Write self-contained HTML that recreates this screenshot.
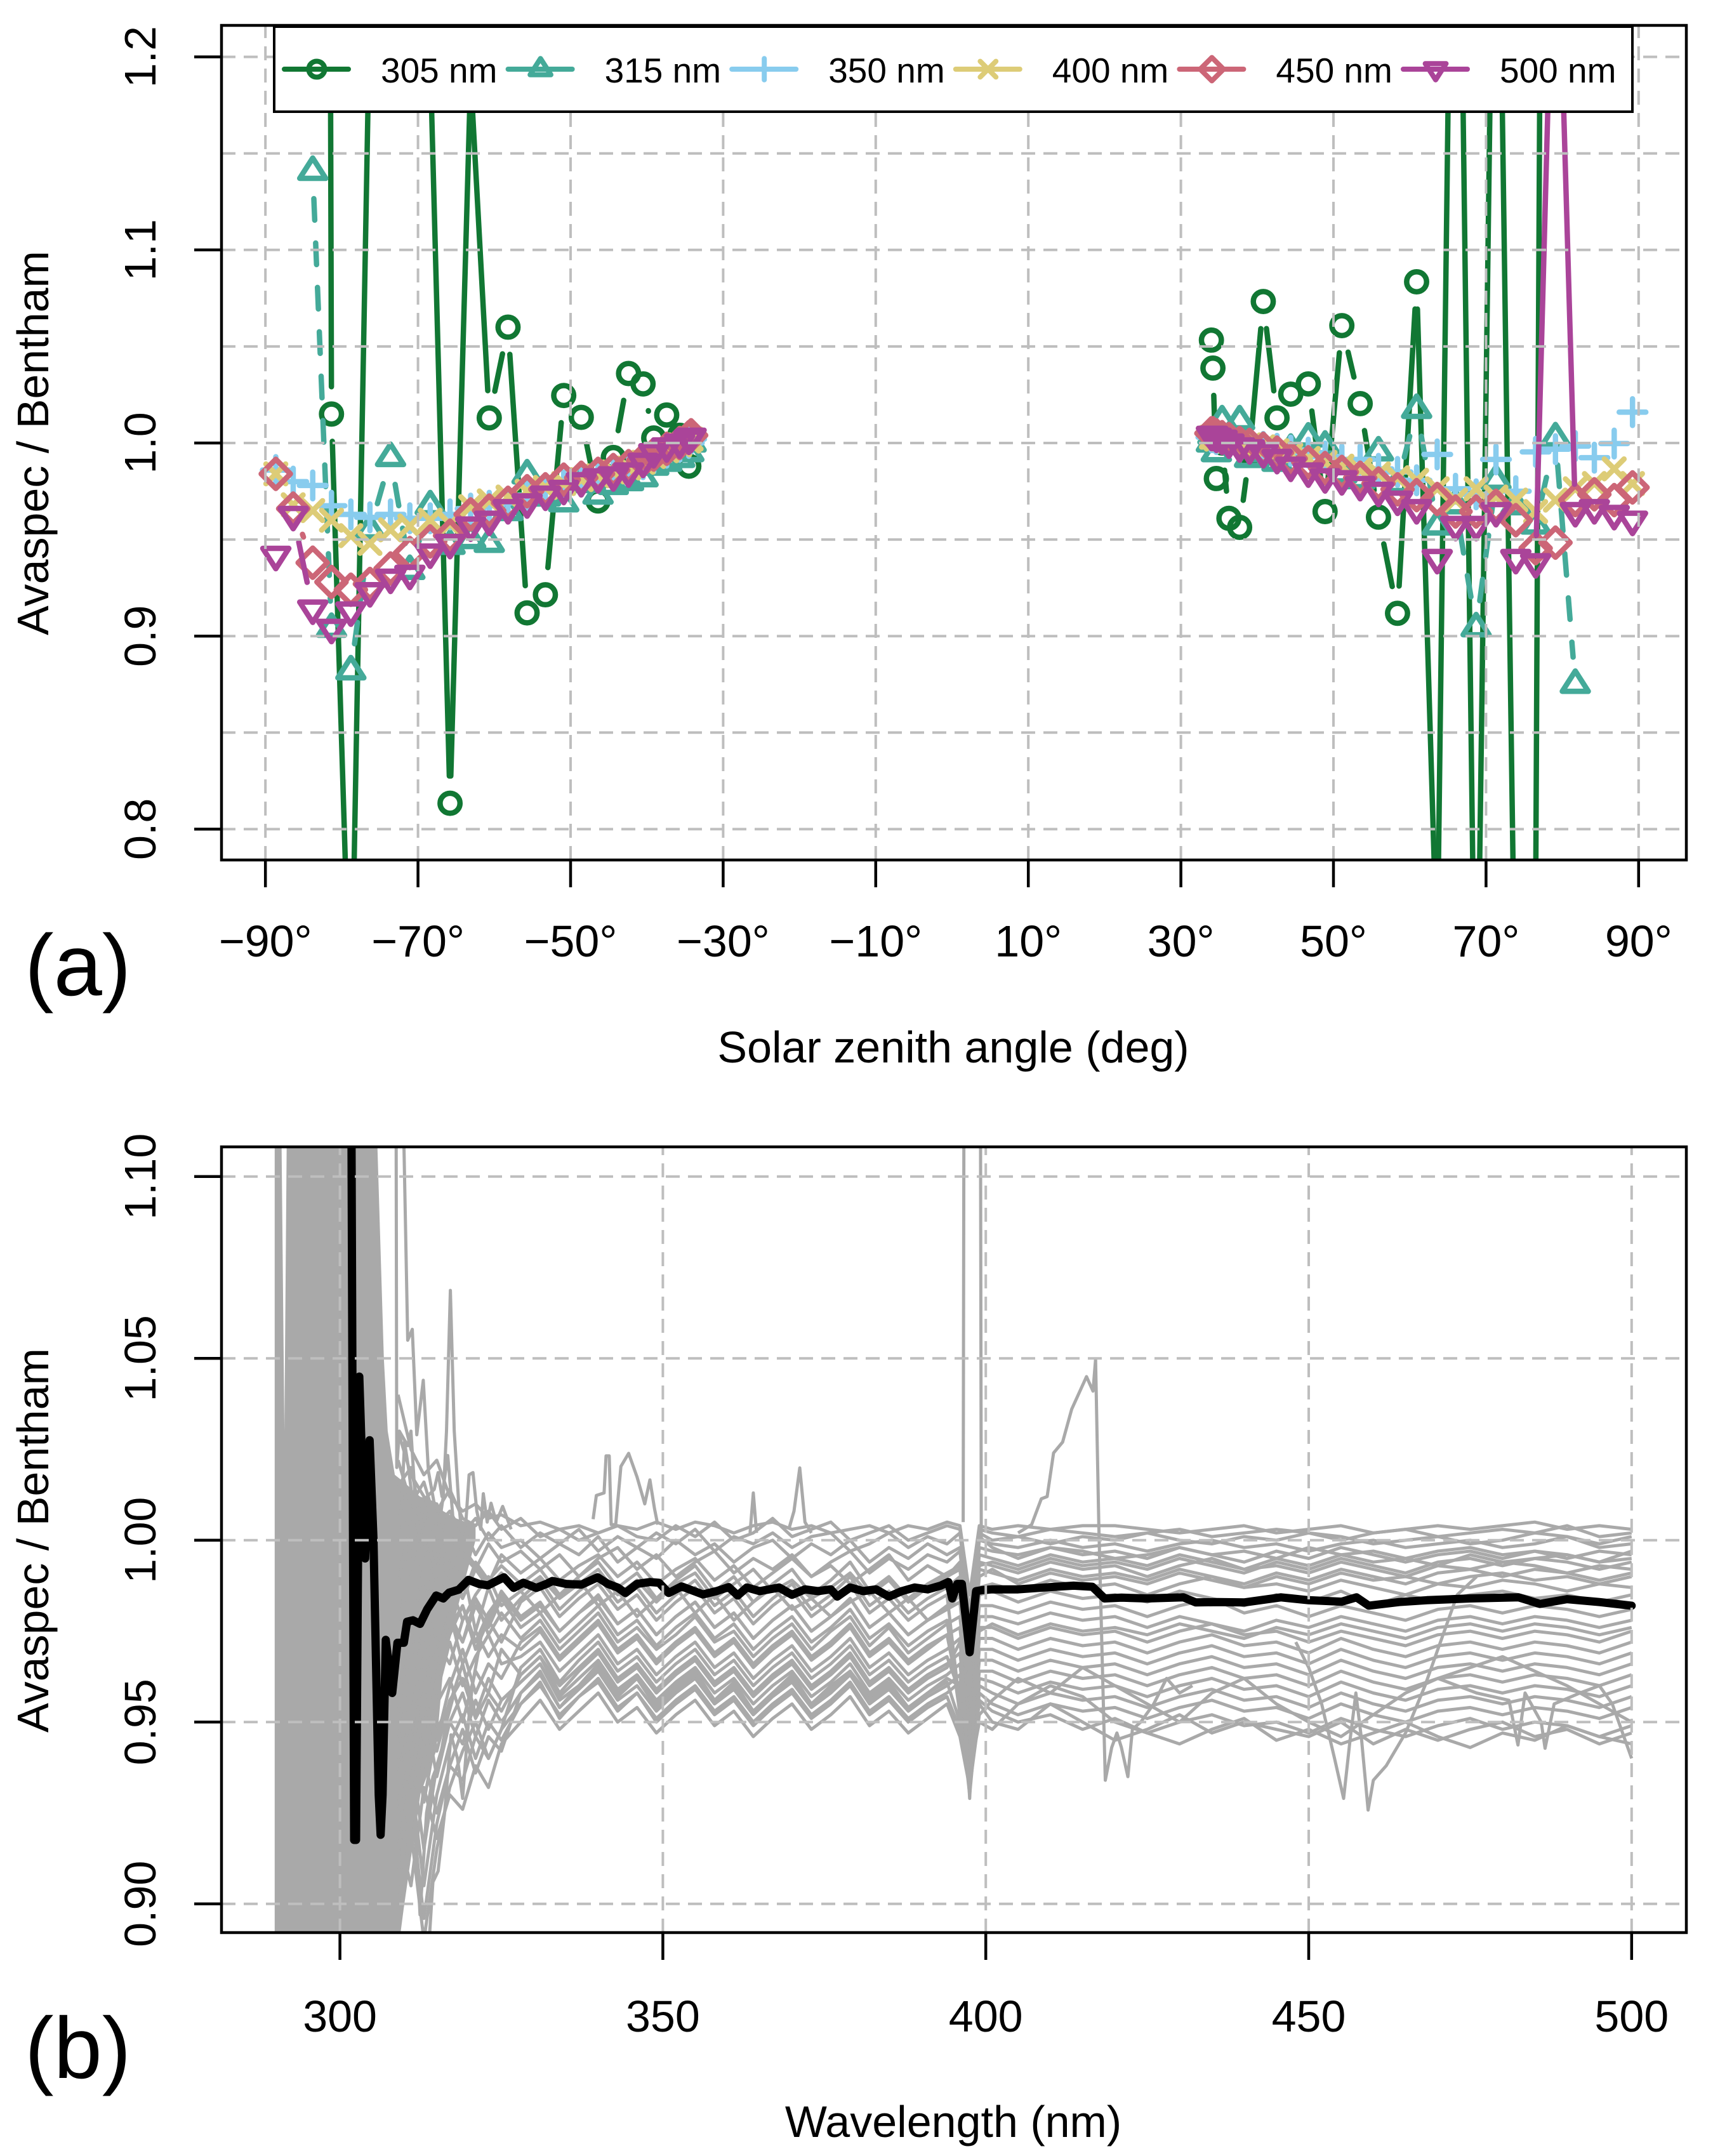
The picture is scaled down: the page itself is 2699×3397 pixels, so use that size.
<!DOCTYPE html>
<html lang="en">
<head>
<meta charset="utf-8">
<title>Avaspec / Bentham ratio</title>
<style>
html,body{margin:0;padding:0;background:#fff;}
svg{display:block;}
text{font-family:"Liberation Sans",Arial,sans-serif;fill:#000;}
</style>
</head>
<body>
<svg id="fig" xmlns="http://www.w3.org/2000/svg" width="2699" height="3397" viewBox="0 0 2699 3397">
<rect x="0" y="0" width="2699" height="3397" fill="#fff"/>
<defs>
<clipPath id="clipA"><rect x="349" y="40" width="2308" height="1315"/></clipPath>
<clipPath id="clipB"><rect x="349" y="1807" width="2308" height="1238"/></clipPath>
</defs>
<g id="panelA"></g>
<g id="panelB"></g>
<text x="39" y="1568" font-size="137">(a)</text>
<text x="39" y="3274" font-size="137">(b)</text>
<text x="1502" y="1674" font-size="70" text-anchor="middle">Solar zenith angle (deg)</text>
<text x="1502" y="3367" font-size="70" text-anchor="middle">Wavelength (nm)</text>
<text transform="translate(76,698) rotate(-90)" font-size="70" text-anchor="middle">Avaspec / Bentham</text>
<text transform="translate(76,2427) rotate(-90)" font-size="70" text-anchor="middle">Avaspec / Bentham</text>
</svg>
<script>
/* ---------- panel (a) data ---------- */
const angleTicks = [-90,-70,-50,-30,-10,10,30,50,70,90];
const ratioTicksA = [0.8,0.9,1.0,1.1,1.2];
const ratioGridA = [0.8,0.85,0.9,0.95,1.0,1.05,1.1,1.15,1.2];
const seriesNames = ["305 nm","315 nm","350 nm","400 nm","450 nm","500 nm"];
const anglesLeft = [-88.64,-86.36,-83.8,-81.34,-78.8,-76.3,-73.6,-71.07,-68.4,-65.8,-63.1,-60.66,-58.2,-55.7,-53.3,-50.9,-48.6,-46.4,-44.4,-42.4,-40.5,-39.1,-37.4,-35.7,-34.5,-34.2];
const anglesRight = [34.0,34.2,34.65,35.4,36.3,37.7,39.0,40.8,42.6,44.4,46.7,48.9,51.1,53.5,55.9,58.4,60.9,63.6,66.0,68.7,71.3,73.9,76.5,79.1,81.7,84.2,86.8,89.2];
const s305Left = [4,4,4.4,1.015,0.69,1.23,1.18,1.19,1.2,0.8134,1.19,1.013,1.060,0.912,0.9214,1.0246,1.0133,0.970,0.9925,1.036,1.0306,1.0026,1.0145,1.004,0.988,1.004];
const s315Left = [null,null,1.1407,0.904,0.882,0.955,0.9925,0.934,0.9675,0.947,0.95,0.948,0.9645,0.9835,0.972,0.969,0.979,0.973,0.978,0.98,0.982,0.988,0.99,0.992,0.995,1.0];
const s350Left = [0.986,0.98,0.978,0.9675,0.963,0.9615,0.963,0.961,0.961,0.963,0.966,0.9675,0.969,0.973,0.975,0.978,0.98,0.982,0.984,0.986,0.989,0.992,0.995,0.998,1.0,1.002];
const s400Left = [0.984,0.968,0.965,0.96,0.952,0.948,0.955,0.957,0.96,0.958,0.967,0.97,0.972,0.975,0.977,0.979,0.981,0.983,0.985,0.987,0.99,0.993,0.996,0.999,1.001,1.002];
const s450Left = [0.984,0.966,0.938,0.928,0.924,0.927,0.935,0.943,0.949,0.952,0.963,0.965,0.969,0.975,0.976,0.981,0.982,0.984,0.986,0.988,0.991,0.994,0.997,1.0,1.003,1.004];
const s500Left = [0.9418,0.9625,0.914,0.904,0.913,0.923,0.93,0.932,0.943,0.948,0.957,0.96,0.966,0.969,0.973,0.976,0.98,0.982,0.983,0.985,0.99,0.995,0.998,1.0,1.002,1.003];
const s305Right = [1.0533,1.0388,0.9816,1.0,0.961,0.9563,0.995,1.0733,1.013,1.0253,1.0306,0.9645,1.0608,1.0204,0.9616,0.9118,1.0835,0.731,1.48,0.646,1.405,0.681,0.76,2.8,3,3,3,3];
const s315Right = [1.0,1.004,0.995,1.0115,1.003,1.0115,0.992,0.995,0.99,0.9968,1.0026,0.9984,0.984,0.981,0.9954,0.979,1.0174,0.957,0.968,0.9043,0.9807,0.9675,0.9575,1.0027,0.875,null,null,null];
const s350Right = [1.003,1.003,1.002,1.002,1.001,1.0,0.999,0.998,0.997,0.996,0.995,0.993,0.9915,0.9915,0.9866,0.985,0.9807,0.9941,0.9763,0.9734,0.9915,0.975,0.9954,0.9968,0.9984,0.9924,0.9997,1.016];
const s400Right = [1.003,1.003,1.002,1.002,1.001,1.0,0.999,0.998,0.996,0.994,0.992,0.99,0.988,0.986,0.984,0.982,0.9807,0.9763,0.9704,0.9763,0.972,0.9704,0.9645,0.9704,0.9763,0.979,0.9866,0.979];
const s450Right = [1.005,1.005,1.004,1.003,1.002,1.0,0.999,0.997,0.995,0.992,0.99,0.987,0.985,0.982,0.979,0.976,0.973,0.971,0.9645,0.9645,0.9675,0.96,0.9455,0.9484,0.9704,0.9734,0.9704,0.977];
const s500Right = [1.004,1.004,1.003,1.002,1.0,0.998,0.997,0.995,0.992,0.988,0.985,0.982,0.981,0.978,0.975,0.9704,0.966,0.9402,0.9573,0.9573,0.9645,0.9402,0.938,1.32,0.9645,0.966,0.963,0.96];

/* ---------- panel (b) data ---------- */
const wavelengthTicks = [300,350,400,450,500];
const ratioTicksB = ["0.90","0.95","1.00","1.05","1.10"];
const noiseBandWl = [289.9,290.9,291.4,291.8,305.6,306.8,307.4,308.5,309.9,312.4,314.9,316,318,321];
const noiseBandHigh = [1.12,1.12,1.03,1.12,1.12,1.05,1.03,1.018,1.016,1.012,1.0105,1.008,1.006,1.004];
const noiseBandLow = [0.88,0.88,0.88,0.88,0.88,0.88,0.88,0.88,0.899,0.93,0.942,0.965,0.98,1.0];
const grayWl = [309,311,313,315,317,319,321,323,325,328,331,334,337,340,343,346,349,352,355,358,361,364,367,370,373,376,379,382,385,388,391,394,396,397.5,399,401,405,410,415,420,425,430,435,440,445,450,455,460,465,470,475,480,485,490,495,500];
/* gray spectra, ratio x 1000, one row per measured scan */
const grayScan01 = [1040,1025,1018,1022,1012,1008,1010,1006,1007,1004,1005,1003,1004,1002,1004,1003,1005,1003,1005,1004,1002,1004,1005,1003,1004,1002,1003,1004,1002,1004,1003,1005,1004,985,1004,1003,1004,1003,1004,1004,1003,1002,1003,1004,1002,1003,1004,1002,1003,1004,1003,1004,1005,1003,1004,1003];
const grayScan02 = [1030,1018,1012,1008,1014,1006,1004,1008,1003,1006,1001,1003,1000,1002,1004,1001,1000,1004,1001,1005,1000,1002,1006,1001,1003,1005,1000,1002,1004,1000,1002,1004,1003,980,1003,1002,1001,1003,1002,1001,1002,1003,1001,1002,1003,1002,1000,1002,1003,1001,1002,1003,1002,1004,1001,1002];
const grayScan03 = [1022,1010,1016,1004,1008,1002,1006,1000,1004,998,1002,999,1003,997,1001,998,1002,999,1003,997,1001,999,1002,998,1001,1002,997,999,1002,998,1001,999,1002,978,1002,1000,1001,999,1001,1000,1002,1000,999,1001,1000,1002,1001,999,1000,1001,999,1000,1002,1001,999,1001];
const grayScan04 = [1015,1020,1002,1010,998,1004,996,1002,998,1000,995,999,996,1001,994,998,995,1000,996,999,994,998,1000,995,999,996,1000,994,998,995,999,996,998,975,1000,999,998,1000,998,999,997,999,1000,998,999,997,999,1000,998,999,1000,998,999,1001,998,999];
const grayScan05 = [1008,1002,1010,994,1001,996,992,999,994,997,992,996,990,995,998,992,996,990,994,997,991,995,992,996,990,994,997,991,995,992,996,994,997,972,998,997,996,998,997,995,996,998,996,997,995,998,996,997,995,997,998,996,997,995,997,996];
const grayScan06 = [1000,1012,996,1004,990,998,993,988,996,991,995,989,993,996,990,994,988,992,995,989,993,987,991,995,990,993,988,992,996,989,993,990,994,968,996,995,993,996,994,995,993,996,994,992,995,993,996,994,995,993,996,994,995,996,994,995];
const grayScan07 = [992,1000,986,995,990,984,992,987,991,986,990,984,988,992,985,989,983,988,991,984,988,992,986,989,984,987,991,985,989,983,987,990,992,964,994,993,991,994,992,993,990,993,995,992,993,991,994,992,990,993,992,994,993,991,993,992];
const grayScan08 = [985,975,992,982,988,978,985,990,982,986,980,985,989,982,986,979,984,987,980,985,978,983,987,981,984,979,983,986,980,984,978,982,985,960,990,992,988,991,989,990,988,991,989,987,990,988,991,989,990,988,990,991,989,990,988,990];
const grayScan09 = [978,990,970,984,976,982,972,980,985,978,982,975,980,984,977,981,974,979,983,976,980,973,978,982,975,979,984,976,980,974,978,981,983,956,987,988,986,989,987,988,985,988,990,987,988,986,989,987,985,988,987,989,988,986,988,987];
const grayScan10 = [970,960,982,972,966,978,984,974,980,973,978,970,975,980,972,976,970,974,979,972,975,968,973,977,970,975,979,971,976,969,973,977,979,952,985,986,983,986,984,985,983,986,984,982,985,983,986,982,985,983,985,986,984,985,983,985];
const grayScan11 = [962,976,955,970,980,966,975,968,974,970,975,967,972,977,969,973,966,971,975,968,972,965,970,974,967,971,976,968,972,966,970,974,976,950,982,982,980,983,981,982,979,982,984,980,982,979,982,980,978,981,982,980,982,981,979,981];
const grayScan12 = [955,945,968,958,972,960,968,974,966,968,972,964,969,974,966,970,963,968,972,965,969,962,967,971,964,968,973,965,969,963,967,970,973,948,979,979,977,980,978,979,976,979,977,975,978,976,979,977,975,978,979,977,979,978,976,978];
const grayScan13 = [945,960,940,955,962,950,964,958,970,963,968,960,965,970,962,966,959,964,968,961,965,958,963,967,960,964,969,961,965,959,963,966,969,945,976,976,973,976,974,975,972,975,977,974,975,972,975,973,971,974,975,973,975,974,972,975];
const grayScan14 = [935,952,928,948,955,966,952,962,956,961,966,957,962,967,959,963,956,961,965,958,962,955,960,964,957,961,966,958,962,956,960,963,966,942,973,973,970,973,971,972,969,972,974,971,972,969,973,970,968,971,972,970,972,971,969,972];
const grayScan15 = [925,942,915,938,950,958,946,956,950,958,963,954,959,964,956,960,953,958,962,955,959,952,957,961,954,958,963,955,959,953,957,960,963,940,970,970,967,970,968,969,966,969,971,968,969,966,970,967,965,968,969,967,969,968,966,969];
const grayScan16 = [915,935,905,930,944,952,940,950,945,955,961,951,957,962,954,958,951,956,960,953,957,950,955,959,952,956,961,953,957,951,955,958,961,938,967,967,964,967,965,966,963,966,968,965,966,963,967,964,962,965,966,964,966,965,963,966];
const grayScan17 = [908,928,896,922,938,948,936,946,942,958,964,954,960,966,957,962,955,960,964,956,961,953,958,963,955,960,964,957,961,954,958,962,960,936,964,964,961,964,962,963,960,963,965,962,963,960,964,961,959,962,963,961,963,962,960,963];
const grayScan18 = [900,920,890,915,932,942,950,940,948,965,970,961,967,972,964,968,961,966,970,963,967,960,965,969,962,966,971,963,967,961,965,968,958,934,962,961,958,961,959,960,957,960,962,959,960,957,961,958,956,959,960,958,960,959,957,960];
const grayScan19 = [950,938,965,945,960,970,958,966,962,972,976,968,973,978,970,974,967,972,976,969,973,966,971,975,968,972,977,969,973,967,971,974,956,932,960,958,955,958,956,957,954,957,959,956,957,954,958,955,953,956,957,955,957,956,954,957];
const grayScan20 = [965,950,975,962,974,982,970,978,972,983,987,979,984,988,981,985,978,983,987,980,984,977,982,986,979,983,988,980,984,978,982,985,954,930,958,955,952,955,953,954,951,954,956,953,954,951,955,952,950,953,954,952,954,953,951,954];
const grayScan21 = [958,970,948,968,980,972,982,976,984,976,980,972,977,982,974,978,971,976,980,973,977,970,975,979,972,976,981,973,977,971,975,978,952,934,956,953,950,952,948,951,947,950,952,949,950,947,951,948,946,949,951,948,950,949,946,949];
const grayScan22 = [940,925,955,935,950,944,956,948,956,961,966,956,960,965,958,962,954,959,963,956,960,953,958,962,955,959,964,956,960,954,958,961,950,938,955,950,948,955,950,945,948,952,947,950,948,946,950,944,948,945,948,950,946,948,944,947];
const grayScan23 = [930,915,940,925,938,934,946,940,948,955,960,952,957,961,953,958,950,955,959,952,956,949,954,958,951,955,960,952,956,950,954,957,948,936,950,948,955,960,957,950,947,944,948,951,945,948,944,947,950,946,943,947,945,949,946,944];
const grayScan24 = [920,905,932,918,930,926,938,932,944,950,956,948,953,958,950,954,947,952,956,949,953,946,951,955,948,952,957,949,953,947,951,955,946,932,952,956,962,958,965,960,955,950,958,962,955,950,946,952,958,962,965,968,964,960,955,950];
const grayScan25 = [975,960,985,968,978,972,984,978,986,979,983,975,980,985,977,981,974,979,983,976,980,973,978,982,975,979,984,976,980,974,978,981,985,958,1001,998,995,998,996,997,995,998,996,994,997,995,998,996,994,996,997,995,997,996,994,997];
const grayScan26 = [988,1005,980,992,985,993,975,987,978,984,989,981,986,990,983,987,980,985,989,982,986,979,984,988,981,985,990,982,986,980,984,987,990,962,993,994,992,995,993,994,992,995,993,991,994,992,995,993,991,994,995,993,995,994,992,994];
const grayScan27 = [1004,992,1008,988,996,984,994,989,993,988,992,985,990,994,987,991,984,989,993,986,990,983,988,992,985,989,994,986,990,984,988,991,993,966,992,991,989,992,990,991,989,992,990,988,991,989,992,990,988,991,992,990,992,991,989,991];
const grayScan28 = [948,932,958,942,956,962,951,958,953,963,968,958,964,969,961,965,958,963,967,960,964,957,962,966,959,963,968,960,964,958,962,965,972,947,975,977,974,977,975,976,974,977,975,973,976,974,977,975,973,976,977,975,977,976,974,976];
const grayScans = [grayScan01,grayScan02,grayScan03,grayScan04,grayScan05,grayScan06,grayScan07,grayScan08,grayScan09,grayScan10,grayScan11,grayScan12,grayScan13,grayScan14,grayScan15,grayScan16,grayScan17,grayScan18,grayScan19,grayScan20,grayScan21,grayScan22,grayScan23,grayScan24,grayScan25,grayScan26,grayScan27,grayScan28];
/* isolated excursions */
const spike317Wl = [315,316,316.5,317.1,317.7,318.4,319];
const spike317Values = [1.0,1.012,1.03,1.0687,1.03,1.01,1.0];
const upper310Wl = [309.7,309.9,310.5,311.2,311.9,312.9,313.7,314.6];
const upper310Values = [1.12,1.11,1.055,1.058,1.029,1.044,1.019,1.01];
const upper308Wl = [308.7,308.8,309.2,310.5,311,311.7,313];
const upper308Values = [1.12,1.02,1.03,1.026,1.03,1.01,1.005];
const bump315Wl = [309.5,310,310.6,311.3,312.5,313.5,314.6,315.2,315.8,316.7,317.5];
const bump315Values = [1.008,1.027,1.02,1.01,1.006,1.012,1.014,1.0186,1.012,1.0233,1.006];
const low314Wl = [313.9,314.4,315.2,316.2,317.2,318.2,319,319.9,320.5,322];
const low314Values = [0.892,0.906,0.909,0.925,0.9465,0.94,0.929,0.95,0.96,0.975];
const low312Wl = [309.5,311.4,312.4,313.4,314.4,315.5,316.5,318];
const low312Values = [0.91,0.932,0.897,0.925,0.935,0.94,0.95,0.96];
const bump320Wl = [318.5,319.5,320,320.6,321.2,321.8,322.2,322.8,323.4,324.2,325.2,326.5];
const bump320Values = [1.0,1.005,1.018,1.0186,1.008,1.003,1.0128,1.005,1.0102,1.005,1.0093,1.003];
const bump340Wl = [339.2,339.7,340.9,341.2,341.7,342,342.7,343.5,344.7,346,347.2,348,348.7,349.2];
const bump340Values = [1.0058,1.0123,1.013,1.0232,1.0232,1.0043,1.0043,1.0203,1.0239,1.0174,1.01,1.0166,1.0087,1.0043];
const spike364Wl = [363.5,364.0,364.5];
const spike364Values = [1.002,1.013,1.002];
const spike371Wl = [369.5,370.3,371.2,372,373];
const spike371Values = [1.003,1.008,1.0199,1.005,1.002];
const spike397Wl = [396.5,396.7,399.1,399.3];
const spike397Values = [1.005,1.2,1.2,1.0];
const low397Wl = [396.2,397.5,398.6];
const low397Values = [0.97,0.929,0.97];
const rise417Wl = [405,407.1,408.6,409.5,410.5,411.9,413.3,415.6,416.6,417,417.5,418.5,419.5,420.3,421,422,422.7,424,426,428,430,432];
const rise417Values = [1.002,1.0043,1.0114,1.012,1.024,1.027,1.036,1.045,1.041,1.0497,1.004,0.934,0.943,0.947,0.943,0.935,0.948,0.95,0.955,0.962,0.958,0.96];
const dip459Wl = [448,450,452,454,455.4,456.4,457.3,458.2,459.2,460,462,465,468,470,473,476];
const dip459Values = [0.972,0.965,0.955,0.94,0.929,0.945,0.958,0.945,0.9258,0.934,0.938,0.947,0.96,0.97,0.985,0.99];
const tail486Wl = [470,476,481,482.4,483.5,486,486.6,488,492,495,497,500];
const tail486Values = [0.962,0.958,0.956,0.9437,0.958,0.95,0.9428,0.955,0.958,0.96,0.955,0.94];
const grayExcursions = [[spike317Wl,spike317Values],[upper310Wl,upper310Values],[upper308Wl,upper308Values],[bump315Wl,bump315Values],[low314Wl,low314Values],[low312Wl,low312Values],[bump320Wl,bump320Values],[bump340Wl,bump340Values],[spike364Wl,spike364Values],[spike371Wl,spike371Values],[spike397Wl,spike397Values],[low397Wl,low397Values],[rise417Wl,rise417Values],[dip459Wl,dip459Values],[tail486Wl,tail486Values]];
const blackWl = [301.6,302.2,302.5,303,303.9,304.6,305.2,306,306.3,306.6,
307.1,308.1,308.9,309.9,310.4,311.3,312.4,313.5,314.9,316,
316.9,318.4,319.9,321.5,322.9,325.4,326.9,328.4,330.4,332,
332.9,335,337.4,339.9,341.5,343,344.2,346,348,349.4,
350.9,352.9,356.2,358.3,360.2,361.6,363,365,368,370,
372,374,376,377,379,381,383,385,387,389,
391,393,394.2,394.8,395.6,396.3,397.5,398.5,399.5,401,
405,409,413.6,416.5,418.4,421,425,430.6,432.5,436,
440,445.7,450,455.1,457.4,459.3,464,468.3,475,482.5,
485.8,490,495,500];
const blackValues = [1.2,0.9176,0.9176,1.045,0.995,1.0275,1.0,0.93,0.919,0.93,
0.9726,0.958,0.9718,0.9718,0.9776,0.978,0.977,0.981,0.9848,0.984,
0.9856,0.9864,0.9891,0.988,0.9876,0.9898,0.9869,0.9883,0.9869,0.988,
0.9888,0.988,0.9878,0.9898,0.988,0.987,0.9855,0.988,0.9885,0.9883,
0.9855,0.9873,0.9851,0.986,0.9871,0.9848,0.987,0.986,0.987,0.985,
0.9865,0.986,0.9865,0.9845,0.987,0.986,0.9865,0.9845,0.986,0.987,
0.9865,0.9875,0.9885,0.984,0.988,0.988,0.9692,0.986,0.9863,0.9865,
0.9865,0.987,0.9875,0.9872,0.984,0.9842,0.984,0.9843,0.9829,0.983,
0.9829,0.9843,0.9835,0.9831,0.9843,0.982,0.983,0.9835,0.984,0.9843,
0.9825,0.9838,0.983,0.982];

/* ---------- drawing ---------- */
const NS = "http://www.w3.org/2000/svg";
const colors = ["#117733","#44AA99","#88CCEE","#DDCC77","#CC6677","#AA4499"];
const markers = ["circle","up","plus","cross","diamond","down"];
const dashes = ["none","34 36","none","none","none","none"];
const seriesLeft = [s305Left,s315Left,s350Left,s400Left,s450Left,s500Left];
const seriesRight = [s305Right,s315Right,s350Right,s400Right,s450Right,s500Right];
const GRID = "#bebebe";
const GRAY = "#a9a9a9";
const boxLeft = 349, boxRight = 2657;
const aTop = 40, aBottom = 1355, bTop = 1807, bBottom = 3045;
const xA = d => 1500 + d * 12.02;
const yA = v => 698 - (v - 1) * 3042;
const xB = w => 535.6 + (w - 300) * 10.176;
const yB = v => 2426.8 - (v - 1) * 5730;
const panelA = document.getElementById("panelA");
const panelB = document.getElementById("panelB");

function make(tag, attrs, parent) {
  const el = document.createElementNS(NS, tag);
  for (const k in attrs) el.setAttribute(k, attrs[k]);
  parent.appendChild(el);
  return el;
}

function drawMarker(parent, kind, cx, cy, color, scale, width) {
  const f = { fill: "none", stroke: color, "stroke-width": width, "stroke-linejoin": "round", "stroke-linecap": "round" };
  let el;
  if (kind === "circle") {
    el = make("circle", Object.assign({ cx: cx, cy: cy, r: 15.7 * scale }, f), parent);
  } else if (kind === "up" || kind === "down") {
    const s = kind === "up" ? 1 : -1;
    const d = `M${cx} ${cy - 21 * s * scale}L${cx + 20.5 * scale} ${cy + 11 * s * scale}L${cx - 20.5 * scale} ${cy + 11 * s * scale}Z`;
    el = make("path", Object.assign({ d: d }, f), parent);
  } else if (kind === "plus") {
    const r = 21 * scale;
    el = make("path", Object.assign({ d: `M${cx - r} ${cy}H${cx + r}M${cx} ${cy - r}V${cy + r}` }, f), parent);
  } else if (kind === "cross") {
    const r = 15.5 * scale;
    el = make("path", Object.assign({ d: `M${cx - r} ${cy - r}L${cx + r} ${cy + r}M${cx - r} ${cy + r}L${cx + r} ${cy - r}` }, f), parent);
  } else {
    const r = 23 * scale;
    el = make("path", Object.assign({ d: `M${cx} ${cy - r}L${cx + r} ${cy}L${cx} ${cy + r}L${cx - r} ${cy}Z` }, f), parent);
  }
  
  
}

/* R type="b": segments stop short of the points */
function drawGappedSeries(parent, angles, values, color, kind, dash) {
  const GAP = 43;
  for (let i = 0; i + 1 < values.length; i++) {
    if (values[i] === null || values[i + 1] === null) continue;
    const x1 = xA(angles[i]), y1 = yA(values[i]), x2 = xA(angles[i + 1]), y2 = yA(values[i + 1]);
    const len = Math.hypot(x2 - x1, y2 - y1);
    if (len <= 2 * GAP) continue;
    const ux = (x2 - x1) / len, uy = (y2 - y1) / len;
    const seg = make("line", { x1: x1 + ux * GAP, y1: y1 + uy * GAP, x2: x2 - ux * GAP, y2: y2 - uy * GAP, stroke: color, "stroke-width": 8.5, "stroke-linecap": "round", "stroke-dasharray": dash }, parent);
    
    
  }
  for (let i = 0; i < values.length; i++) {
    if (values[i] === null) continue;
    drawMarker(parent, kind, xA(angles[i]), yA(values[i]), color, 1, 8.5);
  }
}

function gridLine(parent, x1, y1, x2, y2) {
  const g = make("line", { x1: x1, y1: y1, x2: x2, y2: y2, stroke: GRID, "stroke-width": 4, "stroke-dasharray": "22 13" }, parent);
  
  
}

function axisTick(parent, x1, y1, x2, y2) {
  const t = make("line", { x1: x1, y1: y1, x2: x2, y2: y2, stroke: "#000", "stroke-width": 4.5 }, parent);
  
  
}

function xLabel(parent, x, y, str) {
  const t = make("text", { x: x, y: y, "font-size": 70, "text-anchor": "middle" }, parent);
  t.textContent = str;
  
  
}

function yLabel(parent, y, str) {
  const t = make("text", { transform: `translate(245,${y}) rotate(-90)`, "font-size": 70, "text-anchor": "middle" }, parent);
  t.textContent = str;
  
  
}

function grayPath(parent, wl, vals, width, name) {
  let d = "";
  for (let i = 0; i < wl.length; i++) {
    if (vals[i] === undefined || vals[i] === null) continue;
    d += (d ? "L" : "M") + xB(wl[i]).toFixed(1) + " " + yB(vals[i]).toFixed(1);
  }
  const p = make("path", { d: d, fill: "none", stroke: GRAY, "stroke-width": width, "stroke-linejoin": "round" }, parent);
  
  
}

/* panel (a) */
const plotA = make("g", { "clip-path": "url(#clipA)" }, panelA);


for (let s = 0; s < 6; s++) {
  const group = make("g", {}, plotA);
  
  
  drawGappedSeries(group, anglesLeft, seriesLeft[s], colors[s], markers[s], dashes[s]);
  drawGappedSeries(group, anglesRight, seriesRight[s], colors[s], markers[s], dashes[s]);
}
angleTicks.forEach(d => gridLine(plotA, xA(d), aBottom, xA(d), aTop));
ratioGridA.forEach(v => gridLine(plotA, boxLeft, yA(v), boxRight, yA(v)));

const legend = make("g", {}, panelA);


const legendBox = make("rect", { x: 432, y: 42, width: 2140, height: 134, fill: "#fff", stroke: "#000", "stroke-width": 4 }, legend);


seriesNames.forEach((name, i) => {
  const ox = 352.6 * i;
  const entry = make("g", {}, legend);
  
  
  const ln = make("line", { x1: 448 + ox, y1: 109, x2: 549 + ox, y2: 109, stroke: colors[i], "stroke-width": 8, "stroke-linecap": "round" }, entry);
  
  
  drawMarker(entry, markers[i], 499 + ox, 109, colors[i], 0.8, 8);
  const t = make("text", { x: 600 + ox, y: 130, "font-size": 55 }, entry);
  t.textContent = name;
  
  
});

const boxA = make("rect", { x: boxLeft, y: aTop, width: boxRight - boxLeft, height: aBottom - aTop, fill: "none", stroke: "#000", "stroke-width": 4.5 }, panelA);


angleTicks.forEach(d => {
  axisTick(panelA, xA(d), aBottom, xA(d), aBottom + 43);
  xLabel(panelA, xA(d), 1507, (d < 0 ? "\u2212" + (-d) : String(d)) + "\u00b0");
});
ratioTicksA.forEach(v => {
  axisTick(panelA, boxLeft - 43, yA(v), boxLeft, yA(v));
  yLabel(panelA, yA(v), v.toFixed(1));
});

/* panel (b) */
const plotB = make("g", { "clip-path": "url(#clipB)" }, panelB);


let bandD = "";
noiseBandWl.forEach((w, i) => { bandD += (i ? "L" : "M") + xB(w).toFixed(1) + " " + yB(noiseBandHigh[i]).toFixed(1); });
for (let i = noiseBandWl.length - 1; i >= 0; i--) { bandD += "L" + xB(noiseBandWl[i]).toFixed(1) + " " + yB(noiseBandLow[i]).toFixed(1); }
const band = make("path", { d: bandD + "Z", fill: GRAY, stroke: "none" }, plotB);


grayScans.forEach(row => {
  grayPath(plotB, grayWl, row.map(v => v / 1000), 5, 'gray-spectrum');
});
grayExcursions.forEach(pair => {
  grayPath(plotB, pair[0], pair[1], 5, 'gray-spectrum-excursion');
});
let blackD = "";
blackWl.forEach((w, i) => { blackD += (i ? "L" : "M") + xB(w).toFixed(1) + " " + yB(blackValues[i]).toFixed(1); });
const meanLine = make("path", { d: blackD, fill: "none", stroke: "#000", "stroke-width": 13, "stroke-linejoin": "round", "stroke-linecap": "round" }, plotB);


wavelengthTicks.forEach(w => gridLine(plotB, xB(w), bBottom, xB(w), bTop));
ratioTicksB.forEach(v => gridLine(plotB, boxLeft, yB(parseFloat(v)), boxRight, yB(parseFloat(v))));

const boxB = make("rect", { x: boxLeft, y: bTop, width: boxRight - boxLeft, height: bBottom - bTop, fill: "none", stroke: "#000", "stroke-width": 4.5 }, panelB);


wavelengthTicks.forEach(w => {
  axisTick(panelB, xB(w), bBottom, xB(w), bBottom + 43);
  xLabel(panelB, xB(w), 3201, String(w));
});
ratioTicksB.forEach(v => {
  const y = yB(parseFloat(v));
  axisTick(panelB, boxLeft - 43, y, boxLeft, y);
  yLabel(panelB, y, v);
});
</script>
</body>
</html>
